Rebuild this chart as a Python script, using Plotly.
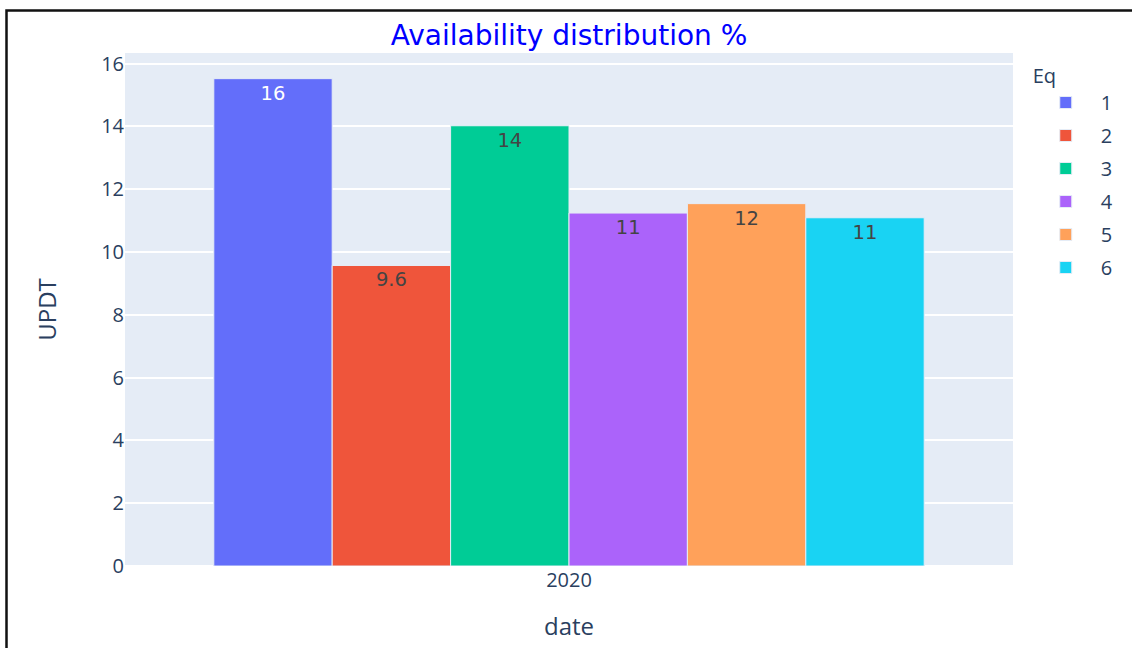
import plotly.graph_objects as go

# Availability (UPDT, %) per equipment for the year 2020
dates = ["2020"]
equipments = ["1", "2", "3", "4", "5", "6"]
updt = [15.52, 9.57, 14.02, 11.24, 11.54, 11.09]
colors = ["#636efa", "#EF553B", "#00cc96", "#ab63fa", "#FFA15A", "#19d3f3"]

W, H = 1132, 648
ML, MR, MT, MB = 125, 119, 53, 82
PW, PH = W - ML - MR, H - MT - MB

fig = go.Figure()
for eq, val, col in zip(equipments, updt, colors):
    fig.add_trace(go.Bar(
        x=dates,
        y=[val],
        name=eq,
        legendgroup=eq,
        offsetgroup=eq,
        marker=dict(color=col, line=dict(color="#E5ECF6", width=1)),
        texttemplate="%{y:.2s}",
        textposition="auto",
        textfont=dict(family="DejaVu Sans", size=19.5),
    ))


def px_x(p):
    return (p - ML) / PW


def px_y(p):
    return (H - MB - p) / PH


# frame around the chart
fig.add_shape(
    type="rect", xref="paper", yref="paper",
    x0=px_x(6.5), x1=px_x(1145), y0=px_y(665), y1=px_y(10.5),
    line=dict(color="#111111", width=2.5), fillcolor="rgba(0,0,0,0)",
    layer="above",
)

fig.update_layout(
    template="plotly",
    width=W, height=H,
    margin=dict(l=ML, r=MR, t=MT, b=MB, pad=0),
    barmode="group",
    paper_bgcolor="white",
    font=dict(family="Open Sans, Verdana, Arial", size=20, color="#2a3f5f"),
    title=dict(
        text="Availability distribution %",
        x=0.5, xanchor="center", xref="paper",
        y=1 - 35 / H, yanchor="middle",
        font=dict(family="DejaVu Sans", size=28, color="blue"),
    ),
    legend=dict(
        y=1 - 4 / PH, yanchor="top",
        title=dict(text="Eq", font=dict(size=20)),
        font=dict(size=20),
        tracegroupgap=4,
        itemwidth=60,
    ),
    xaxis=dict(
        type="category",
        showgrid=False,
        title=dict(text="date", font=dict(size=24), standoff=26),
        tickfont=dict(size=20),
    ),
    yaxis=dict(
        title=dict(text="UPDT", font=dict(size=24), standoff=37),
        gridwidth=2,
        zerolinewidth=2,
        tickfont=dict(size=20),
        dtick=2,
    ),
)

fig.write_html("out.html")
